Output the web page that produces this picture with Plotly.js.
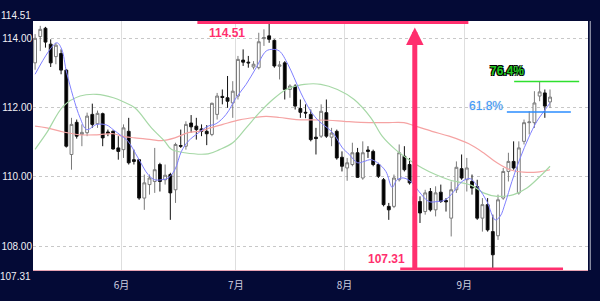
<!DOCTYPE html>
<html><head><meta charset="utf-8">
<script src="https://cdn.plot.ly/plotly-3.0.1.min.js"></script>
<style>html,body{margin:0;padding:0;background:#040a36;}#chart{width:600px;height:301px;}</style>
</head><body><div id="chart"></div>
<script>
// ---- data (USD/JPY daily, May–Sep) ----
const openP  = [113.30,114.06,114.30,113.84,113.48,113.57,113.09,110.65,111.58,111.23,111.28,111.81,111.54,111.83,111.30,111.32,110.84,110.79,111.32,110.50,110.50,109.39,109.78,109.87,110.36,109.92,110.07,109.63,110.91,110.89,111.56,111.47,111.39,111.32,111.23,111.81,112.33,112.29,112.14,112.34,113.38,113.32,113.18,113.16,114.00,114.08,113.95,113.20,113.30,112.53,112.63,111.98,111.87,111.81,111.15,111.18,111.86,111.15,111.32,110.57,110.26,110.36,110.70,109.97,110.78,110.74,110.36,109.92,109.15,109.15,109.92,110.60,110.36,109.44,109.29,109.00,109.58,109.05,109.56,109.32,108.81,109.63,110.24,109.92,109.87,109.72,108.81,109.20,108.42,108.30,109.39,110.16,110.45,109.54,111.03,111.57,111.57,112.34,112.43,112.17];
const highP  = [114.13,114.37,114.34,113.98,113.88,113.69,113.12,111.71,111.66,111.52,111.86,112.12,111.92,111.86,111.37,111.35,111.18,111.52,111.71,110.79,110.52,110.07,110.07,110.84,110.41,110.36,110.12,110.99,111.37,111.61,111.79,111.71,111.52,111.50,112.15,112.43,112.53,112.92,112.77,113.50,113.69,113.50,113.35,114.17,114.27,114.51,113.98,113.35,113.35,112.68,112.68,112.24,112.10,111.95,111.42,112.10,112.24,111.42,111.37,110.74,110.55,110.99,110.84,111.03,110.89,110.79,110.41,109.97,109.25,110.07,110.94,110.89,110.55,109.58,109.44,109.63,109.68,109.73,109.78,109.39,109.87,110.45,110.65,110.55,110.07,109.92,109.39,109.39,108.91,109.49,110.26,110.70,111.03,111.03,111.66,111.90,112.48,112.77,112.53,112.53];
const lowP   = [113.10,113.64,113.74,113.18,113.26,112.97,110.85,110.21,111.11,110.89,111.18,111.42,111.42,110.89,111.18,110.79,110.50,110.55,110.36,110.36,109.34,109.05,109.49,109.54,109.58,109.78,108.76,109.25,110.84,110.79,111.28,111.08,111.18,110.92,111.18,111.66,112.10,112.00,111.71,112.24,113.21,113.16,113.11,113.11,113.79,113.88,113.16,112.82,112.24,112.29,111.95,111.71,111.70,111.03,110.65,111.13,111.13,110.89,110.50,110.16,109.89,110.31,109.97,109.92,110.55,110.31,109.97,109.15,108.76,109.10,109.87,110.16,109.78,109.15,108.67,108.91,109.00,108.86,109.25,109.00,108.28,109.54,109.92,109.58,109.49,108.76,108.42,108.42,107.31,108.18,109.34,109.87,110.21,109.49,110.94,111.23,111.42,112.19,111.71,112.00];
const closeP = [114.01,114.27,113.90,113.30,113.81,113.09,110.89,111.52,111.18,111.29,111.76,111.52,111.84,111.13,111.26,110.81,110.74,111.42,110.41,110.45,109.39,109.83,109.97,110.21,109.87,110.05,109.54,110.94,110.89,111.52,111.45,111.37,111.32,111.25,112.13,112.34,112.30,112.19,112.48,113.40,113.32,113.30,113.26,113.91,114.03,113.98,113.21,113.24,112.53,112.63,112.05,111.87,111.85,111.08,111.11,111.90,111.18,111.27,110.55,110.31,110.41,110.70,109.99,110.70,110.74,110.36,110.02,109.20,109.05,109.97,110.70,110.21,109.83,109.20,108.96,109.54,109.05,109.54,109.29,109.28,109.63,110.28,109.97,110.26,109.68,108.81,109.20,108.47,107.75,109.34,110.16,110.45,110.26,110.84,111.57,111.59,112.14,112.46,112.05,112.31];

// moving averages read as sparse points (candle index, price)
const maShortX = [0,4.17,5.1,6.1,8.65,9.94,11.87,13.79,15.0,16.67,17.88,19.8,21.73,23.0,24.3,25.58,26.87,28.13,29.42,31.35,33.27,34.8,36.73,38.65,40.58,42.5,44.42,45.7,46.98,48.6,49.8,51.1,53.0,54.6,56.2,57.5,59.1,60.4,62.0,63.27,64.56,65.83,67.44,68.65,69.6,70.9,72.5,73.8,75.7,77.3,78.9,80.5,82.1,83.65,85.25,86.87,88.46,89.4,90.4,91.67,93.27,94.87,96.48,98.08,99.0];
const maShortY = [112.97,113.88,113.70,113.00,111.71,111.37,111.52,111.50,111.37,111.18,111.03,110.55,110.07,109.92,109.92,109.97,110.21,110.74,111.03,111.27,111.47,111.54,111.81,112.29,112.68,113.16,113.64,113.69,113.64,113.26,112.87,112.43,111.90,111.61,111.42,111.23,110.84,110.65,110.41,110.45,110.50,110.41,110.16,109.70,109.92,109.97,109.83,109.58,109.29,109.29,109.34,109.58,109.87,109.95,109.68,109.29,108.76,108.86,109.25,109.87,110.55,111.13,111.61,111.95,112.14];
const maMidX = [0,2.25,5.44,8.65,11.87,15.06,16.73,19.17,22.37,24.94,26.2,28.8,33.27,35.44,38.0,40.58,43.13,45.7,48.27,50.2,51.73,54.94,58.13,61.35,64.56,66.73,69.3,71.87,74.42,76.98,79.56,82.1,84.0,86.2,88.8,92.0,94.56,97.1,99.0];
const maMidY = [110.80,111.28,112.05,112.34,112.39,112.29,112.19,112.00,111.42,111.03,110.80,110.70,110.67,110.79,110.99,111.42,111.86,112.24,112.53,112.63,112.68,112.68,112.53,112.24,111.71,111.18,110.79,110.50,110.26,110.07,109.92,109.83,109.75,109.54,109.44,109.49,109.68,110.02,110.31];
const maLongX = [0,2.25,5.44,8.65,11.87,15.06,16.67,19.17,22.37,24.3,26.87,29.42,31.9,33.27,36.1,39.3,42.3,44.4,46.98,50.2,53.4,56.4,59.4,62.6,67.4,70.9,73.1,76.3,79.6,83.4,86.2,88.8,91.3,93.9,96.5,99.0];
const maLongY = [111.47,111.42,111.30,111.22,111.22,111.25,111.18,111.13,111.08,111.05,111.13,111.28,111.33,111.40,111.52,111.65,111.72,111.75,111.72,111.66,111.65,111.64,111.61,111.58,111.57,111.57,111.47,111.32,111.18,110.96,110.70,110.41,110.21,110.14,110.14,110.21];

const yTickVals = [108, 110, 112, 114];
const yTickText = ['108.00', '110.00', '112.00', '114.00'];
const monthPos = [16.6, 38.6, 59.5, 82.5];
const monthLabels = ['6月', '7月', '8月', '9月'];
const rangeHigh = 114.51, rangeLow = 107.31;
const fib764 = 112.76, fib618 = 111.88;
const highLabel = '114.51', lowLabel = '107.31';

const idx = openP.map((_, i) => i);
const PINK = '#ff2f6e';
const NAVY = '#040a36';

const traces = [
  {type:'scatter', mode:'lines', x: maLongX, y: maLongY, line:{color:'#f5a3a3', width:1.2, shape:'spline'}, hoverinfo:'skip'},
  {type:'scatter', mode:'lines', x: maMidX, y: maMidY, line:{color:'#a6d8a6', width:1.2, shape:'spline'}, hoverinfo:'skip'},
  {type:'candlestick', x: idx, open: openP, high: highP, low: lowP, close: closeP,
   increasing:{line:{color:'#7a7a7a', width:1}, fillcolor:'#ffffff'},
   decreasing:{line:{color:'#111111', width:1}, fillcolor:'#000000'},
   whiskerwidth:0, hoverinfo:'skip'},
  {type:'scatter', mode:'lines', x: maShortX, y: maShortY, line:{color:'#8080ff', width:1, shape:'spline'}, hoverinfo:'skip'}
];

const tickFont = {family:'Liberation Sans, Arial, sans-serif', size:10, color:'#f0f0f5'};
const layout = {
  width:600, height:301,
  margin:{l:33, r:12, t:21, b:31, pad:0},
  paper_bgcolor: NAVY, plot_bgcolor:'#ffffff',
  showlegend:false, boxgap:0.22,
  xaxis:{range:[-0.4, 106.3], tickvals: monthPos, ticktext: monthLabels, showgrid:true, gridcolor:'#dedede', gridwidth:1,
         zeroline:false, showline:true, linecolor:'#e7a3b3', linewidth:1, mirror:false, ticks:'',
         tickfont:{family:'Noto Sans CJK JP, sans-serif', size:10, color:'#cfd0e0'}, ticklabelstandoff:6,
         rangeslider:{visible:false}, fixedrange:true},
  yaxis:{range:[rangeLow, rangeHigh], tickvals: yTickVals, ticktext: yTickText, showgrid:true, gridcolor:'#c8c8c8', griddash:'dot',
         gridwidth:1, zeroline:false, ticks:'', tickfont: tickFont, ticklabelstandoff:0, fixedrange:true},
  shapes:[
    {type:'line', xref:'x', yref:'y', x0:31.2, x1:83.3, y0:rangeHigh-0.04, y1:rangeHigh-0.04, line:{color:PINK, width:3}},
    {type:'line', xref:'x', yref:'y', x0:70.2, x1:101.5, y0:rangeLow+0.03, y1:rangeLow+0.03, line:{color:PINK, width:3}},
    {type:'line', xref:'x', yref:'y', x0:92.1, x1:104.6, y0:fib764, y1:fib764, line:{color:'#2ee02e', width:1.5}},
    {type:'line', xref:'x', yref:'y', x0:90.7, x1:103.0, y0:fib618, y1:fib618, line:{color:'#2a8cff', width:1.5}},
    {type:'line', xref:'paper', yref:'paper', x0:1.004, x1:1.004, y0:0, y1:1, line:{color:'#b8bac8', width:1}}
  ],
  annotations:[
    {x:73.0, y:114.32, ax:73.0, ay:rangeLow, axref:'x', ayref:'y', xref:'x', yref:'y', text:'', showarrow:true,
     arrowhead:2, arrowsize:0.7, arrowwidth:5, arrowcolor:PINK, standoff:0, startstandoff:0},
    {x:33.1, y:114.17, xref:'x', yref:'y', text:highLabel, showarrow:false, xanchor:'left', yanchor:'middle',
     font:{family:'Liberation Sans, Arial, sans-serif', size:12, color:PINK, weight:'bold', shadow:'0 0 2px #ffffff, 0 0 2px #ffffff'}},
    {x:63.7, y:107.64, xref:'x', yref:'y', text:lowLabel, showarrow:false, xanchor:'left', yanchor:'middle',
     font:{family:'Liberation Sans, Arial, sans-serif', size:12, color:PINK, weight:'bold', shadow:'0 0 2px #ffffff, 0 0 2px #ffffff'}},
    {x:87.1, y:113.05, xref:'x', yref:'y', text:'76.4%', showarrow:false, xanchor:'left', yanchor:'middle',
     font:{family:'Liberation Sans, Arial, sans-serif', size:12, color:'#22c922', weight:'bold',
           shadow:'1px 1px 0 #000, -1px -1px 0 #000, 1px -1px 0 #000, -1px 1px 0 #000'}},
    {x:83.0, y:112.04, xref:'x', yref:'y', text:'61.8%', showarrow:false, xanchor:'left', yanchor:'middle',
     font:{family:'Liberation Sans, Arial, sans-serif', size:12, color:'#3d9bff', shadow:'0 0 2px #ffffff, 0 0 1px #8899aa'}},
    {x:0, xref:'paper', y:rangeHigh, yref:'y', yshift:6, text:highLabel, showarrow:false, xanchor:'right', yanchor:'middle', font:tickFont},
    {x:0, xref:'paper', y:rangeLow, yref:'y', yshift:-6, text:lowLabel, showarrow:false, xanchor:'right', yanchor:'middle', font:tickFont}
  ]
};
Plotly.newPlot('chart', traces, layout, {staticPlot:true, displayModeBar:false});
</script></body></html>
